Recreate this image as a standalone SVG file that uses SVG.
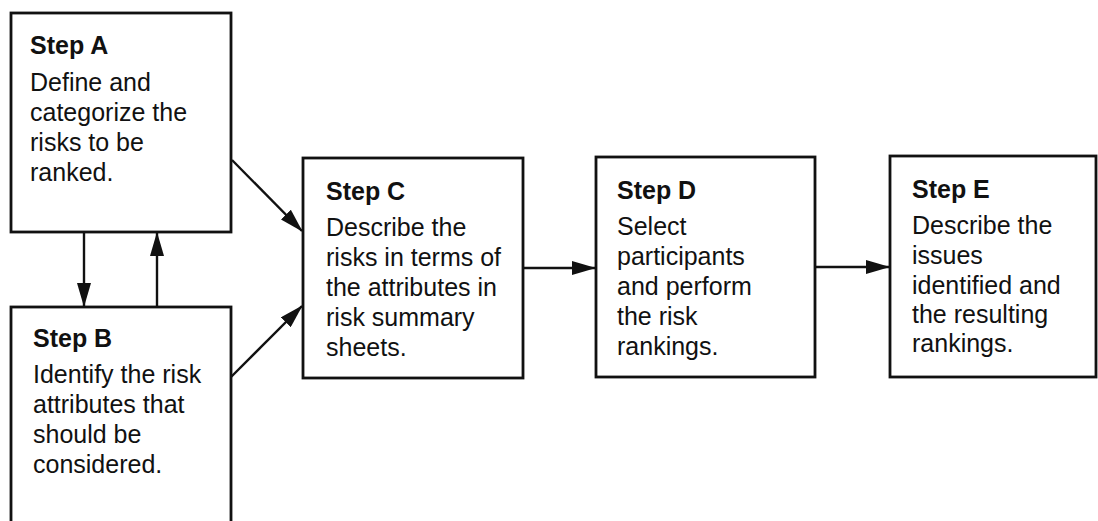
<svg xmlns="http://www.w3.org/2000/svg" width="1098" height="521" viewBox="0 0 1098 521">
<style>
  .box { fill: #fff; stroke: #111; stroke-width: 2.8; }
  .t { font-family: "Liberation Sans", Arial, sans-serif; font-size: 25px; fill: #111; }
  .h { font-weight: bold; }
  .c { stroke: #111; stroke-width: 2.4; fill: none; marker-end: url(#ah); }
</style>
<defs>
  <marker id="ah" markerUnits="userSpaceOnUse" markerWidth="24" markerHeight="14" refX="23" refY="7" orient="auto">
    <path d="M0,0 L24,7 L0,14 z" fill="#111"/>
  </marker>
</defs>
<rect width="1098" height="521" fill="#fff"/>
<g id="connectors">
  <line class="c" x1="84" y1="232" x2="84" y2="306"/>
  <line class="c" x1="157" y1="307" x2="157" y2="233"/>
  <line class="c" x1="232" y1="160" x2="302" y2="231"/>
  <line class="c" x1="231" y1="377" x2="302" y2="306"/>
  <line class="c" x1="523" y1="268" x2="595" y2="268"/>
  <line class="c" x1="815" y1="267" x2="889" y2="267"/>
</g>
<g id="stepA">
  <rect class="box" x="11" y="13" width="220" height="219"/>
  <text class="t h" x="30" y="54">Step A</text>
  <text class="t" x="30" y="91">Define and</text>
  <text class="t" x="30" y="121">categorize the</text>
  <text class="t" x="30" y="151">risks to be</text>
  <text class="t" x="30" y="181">ranked.</text>
</g>
<g id="stepB">
  <rect class="box" x="11" y="307" width="220" height="240"/>
  <text class="t h" x="33" y="347">Step B</text>
  <text class="t" x="33" y="383">Identify the risk</text>
  <text class="t" x="33" y="413">attributes that</text>
  <text class="t" x="33" y="443">should be</text>
  <text class="t" x="33" y="473">considered.</text>
</g>
<g id="stepC">
  <rect class="box" x="303" y="158" width="220" height="220"/>
  <text class="t h" x="326" y="200">Step C</text>
  <text class="t" x="326" y="236">Describe the</text>
  <text class="t" x="326" y="266">risks in terms of</text>
  <text class="t" x="326" y="296">the attributes in</text>
  <text class="t" x="326" y="326">risk summary</text>
  <text class="t" x="326" y="356">sheets.</text>
</g>
<g id="stepD">
  <rect class="box" x="596" y="157" width="219" height="220"/>
  <text class="t h" x="617" y="199">Step D</text>
  <text class="t" x="617" y="235">Select</text>
  <text class="t" x="617" y="265">participants</text>
  <text class="t" x="617" y="295">and perform</text>
  <text class="t" x="617" y="325">the risk</text>
  <text class="t" x="617" y="355">rankings.</text>
</g>
<g id="stepE">
  <rect class="box" x="890" y="156" width="206" height="221"/>
  <text class="t h" x="912" y="198">Step E</text>
  <text class="t" x="912" y="234">Describe the</text>
  <text class="t" x="912" y="264">issues</text>
  <text class="t" x="912" y="294">identified and</text>
  <text class="t" x="912" y="323">the resulting</text>
  <text class="t" x="912" y="352">rankings.</text>
</g>
</svg>
